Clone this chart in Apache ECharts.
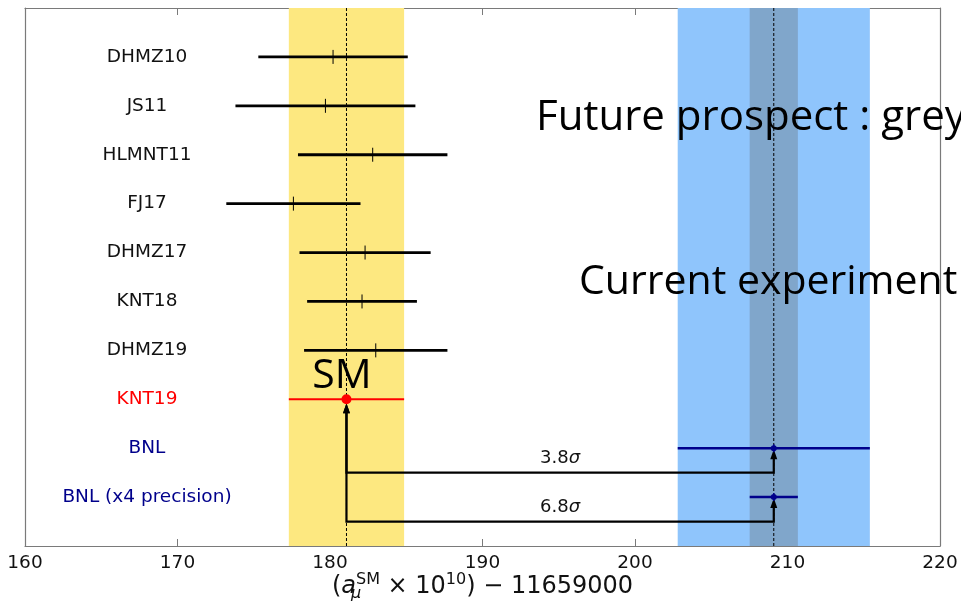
<!DOCTYPE html>
<html><head><meta charset="utf-8">
<script src="https://cdn.jsdelivr.net/npm/echarts@6/dist/echarts.min.js"></script>
<style>html,body{margin:0;padding:0;background:#fff}#c{width:961px;height:606px}</style>
</head><body><div id="c"></div>
<script>
// ---- data ----
const categories = ['DHMZ10', 'JS11', 'HLMNT11', 'FJ17', 'DHMZ17', 'KNT18', 'DHMZ19', 'KNT19', 'BNL', 'BNL (x4 precision)'];
const centers = [180.2, 179.7, 182.8, 177.6, 182.3, 182.1, 183.0, 181.08, 209.1, 209.1];
const errors  = [4.9, 5.9, 4.9, 4.4, 4.3, 3.6, 4.7, 3.78, 6.3, 1.58];
const groups  = ['theory', 'theory', 'theory', 'theory', 'theory', 'theory', 'theory', 'sm', 'exp', 'exp'];
const sigmaLabels = ['3.8', '6.8'];
const xMin = 160, xMax = 220, xStep = 10;

// ---- styles ----
const colorOf = { theory: '#000000', sm: '#ff0000', exp: '#00008b' };
const smIdx = groups.indexOf('sm');
const expIdx = groups.map((g, i) => g === 'exp' ? i : -1).filter(i => i >= 0);
const yMin = -1, yMax = categories.length;

const bands = [
  [centers[smIdx] - errors[smIdx], centers[smIdx] + errors[smIdx], '#fde880'],
  [centers[expIdx[0]] - errors[expIdx[0]], centers[expIdx[0]] + errors[expIdx[0]], '#8fc5fc'],
  [centers[expIdx[1]] - errors[expIdx[1]], centers[expIdx[1]] + errors[expIdx[1]], '#80a6cb']
];
const vlines = [centers[smIdx], centers[expIdx[0]]];

const chart = echarts.init(document.getElementById('c'), null, { renderer: 'canvas' });
const FONT = 'DejaVu Sans';
const frame = '#7a7a7a';

const option = {
  animation: false,
  backgroundColor: '#fff',
  grid: { left: 25, right: 21, top: 8, bottom: 60, containLabel: false, outerBoundsMode: 'none' },
  xAxis: [{
    type: 'value', min: xMin, max: xMax, interval: xStep, position: 'bottom',
    axisLine: { show: true, onZero: false, lineStyle: { color: frame, width: 1.2 } },
    axisTick: { show: true, inside: true, length: 7, lineStyle: { color: frame } },
    splitLine: { show: false },
    axisLabel: { color: '#111', fontFamily: FONT, fontSize: 18.5, margin: 8 },
    name: '{t|(}{ti|a}{sub|μ}{sup|SM}{t| × 10}{sup|10}{t|) − 11659000}',
    nameLocation: 'middle', nameGap: 26, nameMoveOverlap: false,
    nameTextStyle: {
      fontFamily: FONT, color: '#111', lineHeight: 30,
      rich: {
        t: { fontFamily: FONT, fontSize: 24, color: '#111', verticalAlign: 'middle' },
        ti: { fontFamily: FONT, fontSize: 24, fontStyle: 'italic', color: '#111', verticalAlign: 'middle' },
        sup: { fontFamily: FONT, fontSize: 16, color: '#111', verticalAlign: 'top' },
        sub: { fontFamily: FONT, fontSize: 16, fontStyle: 'italic', color: '#111', verticalAlign: 'bottom', width: 0 }
      }
    }
  }, {
    type: 'value', min: xMin, max: xMax, interval: xStep, position: 'top',
    axisLine: { show: true, onZero: false, lineStyle: { color: frame, width: 1.2 } },
    axisTick: { show: true, inside: true, length: 7, lineStyle: { color: frame } },
    splitLine: { show: false }, axisLabel: { show: false }
  }],
  yAxis: [{
    type: 'value', min: yMin, max: yMax, interval: 1, inverse: true, position: 'left',
    axisLine: { show: true, onZero: false, lineStyle: { color: frame, width: 1.2 } },
    axisTick: { show: false }, splitLine: { show: false },
    axisLabel: {
      inside: true, margin: 122, align: 'center', fontFamily: FONT, fontSize: 18.5,
      formatter: v => (v >= 0 && v < categories.length) ? '{' + groups[v] + '|' + categories[v] + '}' : '',
      rich: {
        theory: { color: '#111', fontFamily: FONT, fontSize: 18.5 },
        sm: { color: '#ff0000', fontFamily: FONT, fontSize: 18.5 },
        exp: { color: '#00008b', fontFamily: FONT, fontSize: 18.5 }
      }
    }
  }, {
    type: 'value', min: yMin, max: yMax, interval: 1, inverse: true, position: 'right',
    axisLine: { show: true, onZero: false, lineStyle: { color: frame, width: 1.2 } },
    axisTick: { show: false }, splitLine: { show: false }, axisLabel: { show: false }
  }],
  series: [
    { // bands
      type: 'custom', z: 1, silent: true,
      data: bands.map(b => [b[0], b[1]]),
      renderItem: (params, api) => {
        const b = bands[params.dataIndex];
        const p0 = api.coord([api.value(0), yMin]);
        const p1 = api.coord([api.value(1), yMax]);
        return { type: 'rect', shape: { x: p0[0], y: Math.min(p0[1], p1[1]), width: p1[0] - p0[0], height: Math.abs(p1[1] - p0[1]) },
                 style: { fill: b[2] } };
      }
    },
    { // dashed central lines
      type: 'custom', z: 3, silent: true,
      data: vlines.map(v => [v]),
      renderItem: (params, api) => {
        const p0 = api.coord([api.value(0), yMin]);
        const p1 = api.coord([api.value(0), yMax]);
        return { type: 'line', shape: { x1: p0[0], y1: p0[1], x2: p1[0], y2: p1[1] },
                 style: { stroke: '#000', lineWidth: 1, lineDash: [3, 2] } };
      }
    },
    { // significance arrows
      type: 'custom', z: 4, silent: true,
      data: expIdx.map((j, k) => [centers[smIdx], centers[j], j, k]),
      renderItem: (params, api) => {
        const xs = api.value(0), xe = api.value(1), j = api.value(2), k = api.value(3);
        const a = api.coord([xs, j + 0.5]);
        const b = api.coord([xe, j + 0.5]);
        const tipE = api.coord([xe, j]);
        const tipS = api.coord([xs, smIdx]);
        const head = (x, y) => ({ type: 'polygon', shape: { points: [[x, y], [x - 3.5, y + 10], [x + 3.5, y + 10]] }, style: { fill: '#000' } });
        return { type: 'group', children: [
          { type: 'polyline', shape: { points: [[a[0], tipS[1] + 12], [a[0], a[1]], [b[0], b[1]], [b[0], tipE[1] + 9]] },
            style: { stroke: '#000', lineWidth: 2.2, fill: null } },
          head(b[0], tipE[1] + 1),
          head(a[0], tipS[1] + 4),
          { type: 'text', x: (a[0] + b[0]) / 2, y: a[1] - 5,
            style: { text: sigmaLabels[k] + '{i|σ}', fill: '#111', font: '18px "DejaVu Sans"', align: 'center', verticalAlign: 'bottom',
                     rich: { i: { fontStyle: 'italic', fontFamily: FONT, fontSize: 18, fill: '#111' } } } }
        ] };
      }
    },
    { // error bars
      type: 'custom', z: 5, silent: true,
      data: categories.map((c, i) => [centers[i], errors[i], i]),
      renderItem: (params, api) => {
        const c = api.value(0), e = api.value(1), i = api.value(2);
        const g = groups[i], col = colorOf[g];
        const p0 = api.coord([c - e, i]), p1 = api.coord([c + e, i]), pc = api.coord([c, i]);
        const lw = g === 'theory' ? 2.8 : (g === 'sm' ? 2.2 : 2.5);
        const children = [{ type: 'line', shape: { x1: p0[0], y1: p0[1], x2: p1[0], y2: p1[1] }, style: { stroke: col, lineWidth: lw } }];
        if (g === 'theory') {
          children.push({ type: 'line', shape: { x1: pc[0], y1: pc[1] - 7, x2: pc[0], y2: pc[1] + 7 }, style: { stroke: col, lineWidth: 1 } });
        } else if (g === 'sm') {
          children.push({ type: 'circle', shape: { cx: pc[0], cy: pc[1], r: 5 }, style: { fill: col } });
        } else {
          children.push({ type: 'circle', shape: { cx: pc[0], cy: pc[1], r: 3 }, style: { fill: col } });
          children.push({ type: 'line', shape: { x1: pc[0], y1: pc[1] - 4, x2: pc[0], y2: pc[1] + 4 }, style: { stroke: col, lineWidth: 1.5 } });
        }
        return { type: 'group', children };
      }
    }
  ],
  graphic: [
    { type: 'text', x: 342, y: 376, z: 10, style: { text: 'SM', font: '41px "Open Sans"', fill: '#000', align: 'center', verticalAlign: 'middle' } },
    { type: 'text', x: 536, y: 118, z: 10, style: { text: 'Future prospect : grey', font: '42px "Open Sans"', fill: '#000', align: 'left', verticalAlign: 'middle' } },
    { type: 'text', x: 579, y: 282, z: 10, style: { text: 'Current experiment', font: '41px "Open Sans"', fill: '#000', align: 'left', verticalAlign: 'middle' } }
  ]
};
chart.setOption(option);
</script>
</body></html>
